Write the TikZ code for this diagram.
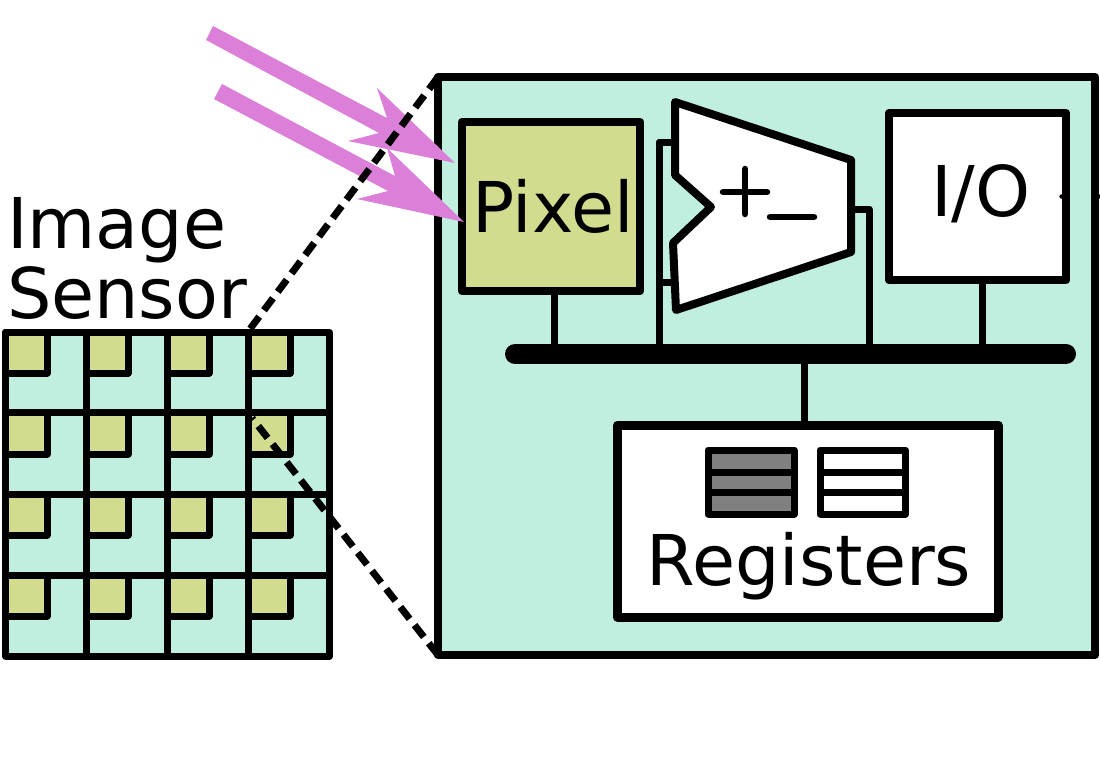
\documentclass[tikz,border=0pt]{standalone}
\usepackage{fontspec}
\setmainfont{DejaVu Sans}
\definecolor{teal1}{HTML}{C1EFDF}
\definecolor{olive1}{HTML}{D3DC8E}
\definecolor{pink1}{HTML}{DB7FD8}
\definecolor{gray1}{HTML}{808080}
\tikzset{
  box/.style={draw=black,line width=8.5pt,line join=round,inner sep=0pt,outer sep=0pt,anchor=center},
  wire/.style={draw=black,line width=7pt,line join=round,line cap=butt},
  bigtext/.style={font=\fontsize{70}{72}\selectfont,inner sep=0pt,outer sep=0pt},
  cellframe/.style={draw=black,line width=7pt,line join=round},
  ray/.style={fill=pink1,draw=none},
  zoomline/.style={draw=black,line width=7pt,dash pattern=on 15pt off 8pt},
  regbox/.style={draw=black,line width=7pt,line join=round},
}
\begin{document}
\begin{tikzpicture}[x=1pt,y=-1pt]
\useasboundingbox (0,0) rectangle (1100,772);
\fill[white] (0,0) rectangle (1100,772);

% sensor
\fill[teal1] (5.5,332.5) rectangle (329.5,656);
\foreach \x/\xr in {5.5/47,86.7/128,167.7/209,248.7/290}{
  \foreach \y/\yb in {332.5/373,412.7/454,494/535,575/616}{
    \draw[cellframe,fill=olive1] (\x,\y) rectangle (\xr,\yb);
  }
}
\foreach \x in {86.7,167.7,248.7}{\draw[cellframe] (\x,332.5) -- (\x,656);}
\foreach \y in {412.7,494,575}{\draw[cellframe] (5.5,\y) -- (329.5,\y);}
\draw[cellframe] (5.5,332.5) rectangle (329.5,656);

% enlarged pixel
\draw[box,fill=teal1] (438,77) rectangle (1095,655);
\coordinate (bigTL) at (438,77);
\coordinate (bigBL) at (438,655);
\coordinate (senTR) at (250,329);
\coordinate (senIn) at (252,418);

\coordinate (busL) at (515,354);
\coordinate (busR) at (1066,354);
\coordinate (busPix) at (554,354);
\coordinate (busIn) at (659,354);
\coordinate (busOut) at (869,354);
\coordinate (busIO) at (982,354);
\coordinate (busReg) at (804,354);

\node[box,fill=olive1,minimum width=178pt,minimum height=169pt,
  bigtext,text height=51pt,text depth=0pt] (pixel) at (551,206.5) {\hspace{4pt}Pixel};
\node[box,fill=white,minimum width=177pt,minimum height=167pt,
  bigtext,text height=39pt,text depth=0pt] (io) at (977.5,196.5) {\hspace{7pt}I/O};
\node[box,line width=9pt,fill=white,minimum width=380.5pt,minimum height=192pt] (regs) at (807.75,521) {};
\node[bigtext,anchor=base] (regtext) at (809,585) {Registers};

% stubs at the I/O level
\fill[black] (1061.5,196.5) circle (2.2);
\fill[black] (1099,196.5) circle (2.2);

% wires
\draw[wire] (pixel.south -| busPix) -- (busPix);
\draw[wire] (io.south -| busIO) -- (busIO);
\draw[wire] (busReg) -- (regs.north -| busReg);
\draw[wire] (busIn) -- (659,142) -- (676,142);
\draw[wire] (659,282) -- (676,282);
\draw[wire] (851,209) -- (869,209) -- (busOut);
\draw[black,line width=20pt,line cap=round] (busL) -- (busR);

% comparator
\draw[fill=white,draw=black,line width=8pt,line join=round]
 (675,102) -- (851,160) -- (851,252) -- (676,310) -- (673,243) -- (711,207) -- (675,175) -- cycle;
\draw[black,line width=6.5pt,line cap=round] (723,192) -- (767,192) (745,169) -- (745,214);
\draw[black,line width=6.5pt,line cap=round] (770,217) -- (814,217);

% registers
\draw[regbox,fill=gray1] (708,450) rectangle (794,514);
\draw[regbox] (708,472) -- (794,472) (708,492) -- (794,492);
\draw[regbox,fill=white] (820,450) rectangle (905.5,514);
\draw[regbox] (820,472) -- (905.5,472) (820,492) -- (905.5,492);

% rays
\fill[ray] (213,26) -- (387,118) -- (377,88) -- (455,163) -- (348,141) -- (379,133) -- (206,40) -- cycle;
\fill[ray] (222,84) -- (395,176) -- (387,148) -- (464,222) -- (357,199) -- (388,191) -- (214,99) -- cycle;

% zoom lines
\draw[zoomline] (bigTL) -- (senTR);
\draw[zoomline] (bigBL) -- (senIn);

\node[bigtext,anchor=base west] (imagetext) at (7,248) {Image};
\node[bigtext,anchor=base west] (sensortext) at (7,318) {Sensor};
\end{tikzpicture}
\end{document}
